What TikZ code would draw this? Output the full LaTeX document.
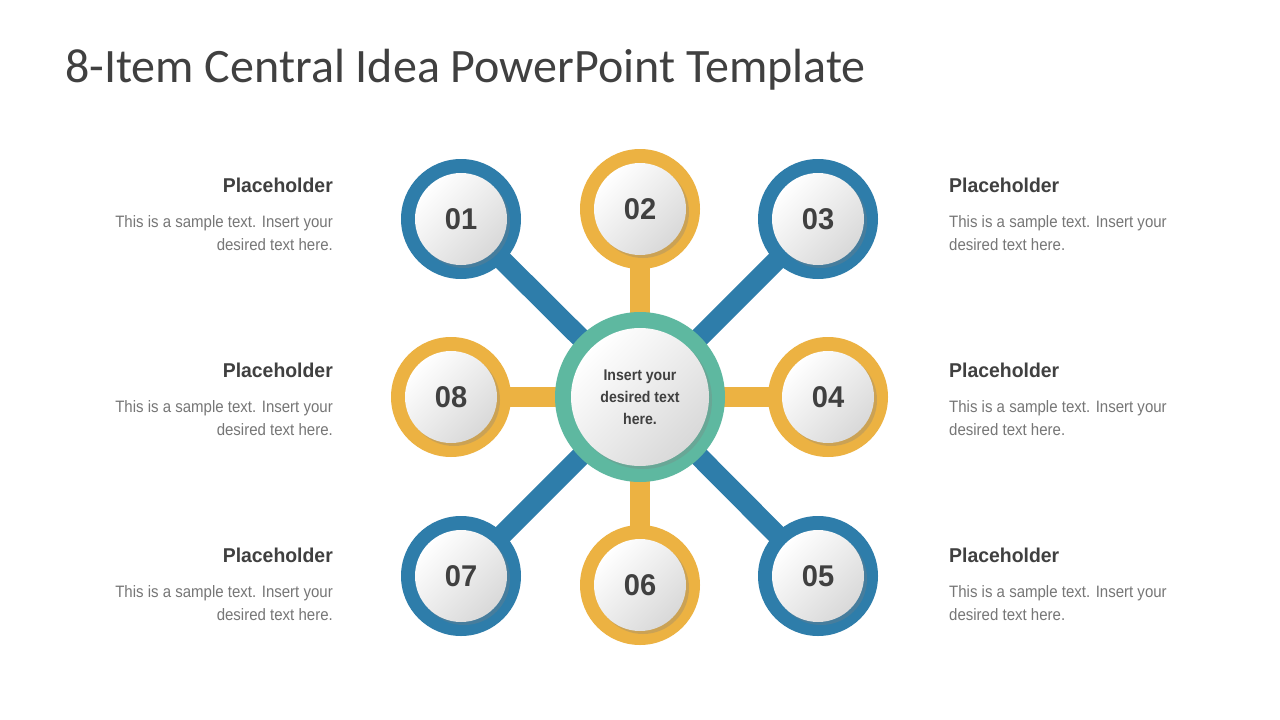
\documentclass[tikz,border=0pt]{standalone}
\usepackage{fontspec}
\setmainfont{Liberation Sans}
\newfontfamily\titlefont{Carlito}
\newfontfamily\narrowfont[FakeStretch=0.91]{Liberation Sans}
\newfontfamily\numfont[FakeStretch=0.97]{Liberation Sans}
\usetikzlibrary{positioning,shadows,backgrounds}
\definecolor{blx}{RGB}{46,125,170}
\definecolor{orx}{RGB}{236,178,66}
\definecolor{tlx}{RGB}{94,184,160}
\definecolor{txd}{RGB}{64,64,64}
\definecolor{txg}{RGB}{118,118,118}
\tikzset{
    ring/.style={circle,fill=#1,inner sep=0pt,minimum size=120pt},
    knob/.style={circle,inner sep=0pt,minimum size=92pt,shading=axis,
        top color=white,bottom color=black!15,shading angle=45,
        drop shadow={shadow xshift=3pt,shadow yshift=-3pt,opacity=0.3},
        text=txd,font=\numfont\bfseries\fontsize{30}{32}\selectfont},
    spoke/.style={#1,line width=20pt},
    headl/.style={inner sep=0pt,text=txd,font=\numfont\bfseries\fontsize{20}{24}\selectfont},
    bodyl/.style={inner sep=0pt,text=txg,font=\narrowfont\fontsize{16.5}{23}\selectfont}
}
\begin{document}
\begin{tikzpicture}[x=1pt,y=-1pt]
    \useasboundingbox (0,0) rectangle (1280,720);
    \node[anchor=base west,inner sep=0pt,text=txd,font=\titlefont\fontsize{48}{52}\selectfont]
        (title) at (65,82) {8-Item Central Idea PowerPoint Template};
    % hub
    \node[ring=tlx,minimum size=170pt] (hubring) at (640,397) {};
    \node[knob,minimum size=138pt,align=center,
        font=\narrowfont\bfseries\fontsize{15.5}{22}\selectfont] (hub) at (hubring) {Insert your\\desired text\\here.};
    % satellites
    \foreach \i/\x/\y/\c in {1/461/219/blx,2/640/209/orx,3/818/219/blx,4/828/397/orx,
                             5/818/576/blx,6/640/585/orx,7/461/576/blx,8/451/397/orx} {
        \node[ring=\c] (ring\i) at (\x,\y) {};
        \node[knob] (num\i) at (ring\i) {0\i};
    }
    \begin{scope}[on background layer]
        \fill[white] (0,0) rectangle (1280,720);
        \foreach \i/\c in {1/blx,2/orx,3/blx,4/orx,5/blx,6/orx,7/blx,8/orx} {
            \draw[spoke=\c] (hubring.center) -- (ring\i.center);
        }
    \end{scope}
    % texts left
    \foreach \i/\y in {1/192,2/377,3/562} {
        \node[headl,anchor=base east] (hl\i) at (333,\y) {Placeholder};
        \node[bodyl,align=right,below=23pt of hl\i.south east,anchor=north east]
            (bl\i) {This is a sample text. Insert your\\desired text here.};
    }
    % texts right
    \foreach \i/\y in {1/192,2/377,3/562} {
        \node[headl,anchor=base west] (hr\i) at (949,\y) {Placeholder};
        \node[bodyl,align=left,below=23pt of hr\i.south west,anchor=north west]
            (br\i) {This is a sample text. Insert your\\desired text here.};
    }
\end{tikzpicture}
\end{document}
